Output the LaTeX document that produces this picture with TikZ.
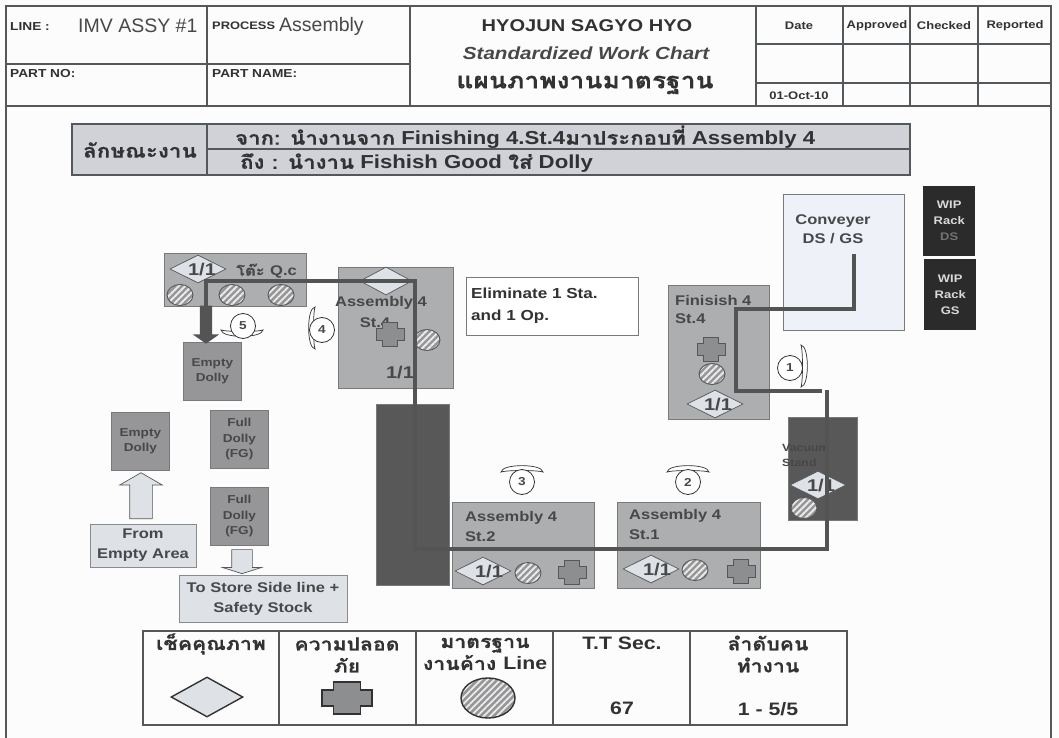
\documentclass[tikz,border=0pt]{standalone}
\usepackage{fontspec}
\setmainfont[BoldFeatures={FakeStretch=1.18},BoldItalicFeatures={FakeStretch=1.18}]{Liberation Sans}
\newfontfamily\thaifont[Script=Thai,BoldFeatures={FakeStretch=1.18,FakeBold=0.5}]{Loma}
\usetikzlibrary{shapes.geometric,shapes.arrows,patterns.meta}
\definecolor{framegray}{RGB}{85,88,90}
\definecolor{inkgray}{RGB}{50,50,52}
\definecolor{softink}{RGB}{72,72,74}
\definecolor{boxgray}{RGB}{172,174,176}
\definecolor{dollygray}{RGB}{150,150,152}
\definecolor{palegray}{RGB}{222,225,230}
\definecolor{paleblue}{RGB}{238,241,247}
\definecolor{darkstand}{RGB}{88,88,88}
\definecolor{rackblack}{RGB}{44,43,43}
\definecolor{crossgray}{RGB}{140,142,144}
\definecolor{walkgray}{RGB}{84,84,84}
\tikzset{
  gridline/.style={draw=framegray, line width=1.1pt},
  stationbox/.style={draw=framegray!80, fill=boxgray, line width=.7pt, anchor=north west, inner sep=0pt},
  dollybox/.style={draw=framegray!80, fill=dollygray, line width=.7pt, anchor=north west, minimum width=58, minimum height=58,
    inner sep=0pt, align=center, text=softink, font=\fontsize{11.5}{15.5}\selectfont\bfseries},
  palebox/.style={draw=framegray!70, fill=palegray, line width=.7pt, inner sep=0pt, align=center, text=softink,
    font=\fontsize{14}{20}\selectfont\bfseries},
  rackbox/.style={fill=rackblack, anchor=north west, inner sep=0pt, align=center, text=white!85!black,
    font=\fontsize{11}{16}\selectfont\bfseries},
  qualdia/.style={diamond, draw=framegray, fill=palegray, line width=.7pt, inner sep=0pt, minimum width=56, minimum height=28},
  stockdisc/.style={ellipse, draw=framegray, line width=.9pt, inner sep=0pt, minimum width=26, minimum height=21,
    preaction={fill=dollygray}, pattern={Lines[angle=45,distance=4.6pt,line width=1.9pt]}, pattern color=white!92!black},
  opcircle/.style={circle, draw=inkgray, fill=white, line width=.8pt, inner sep=0pt, minimum size=25,
    text=softink, font=\fontsize{11.5}{12}\selectfont\bfseries},
  walkline/.style={draw=walkgray, line width=3.4pt, line join=miter},
  hollowarrow/.style={single arrow, draw=framegray, fill=palegray, line width=.7pt, inner xsep=0pt},
  boxlab/.style={anchor=west, inner sep=0pt, text=softink, font=\fontsize{14}{14}\selectfont\bfseries},
  ratio/.style={inner sep=0pt, text=softink, font=\fontsize{17}{17}\selectfont\bfseries},
  headsmall/.style={anchor=west, inner sep=0pt, text=inkgray, font=\fontsize{11.6}{13}\selectfont\bfseries},
  headbig/.style={anchor=west, inner sep=0pt, text=softink, font=\fontsize{19.5}{20}\selectfont},
  signoff/.style={inner sep=0pt, text=inkgray, font=\fontsize{11}{12}\selectfont\bfseries},
  legendhead/.style={inner sep=0pt, text=inkgray, font=\fontsize{18}{18}\selectfont\bfseries},
  safety/.pic={
    \filldraw[pic actions] (-1,-.5) -- (-.55,-.5) -- (-.55,-1) -- (.55,-1) -- (.55,-.5) -- (1,-.5)
      -- (1,.5) -- (.55,.5) -- (.55,1) -- (-.55,1) -- (-.55,.5) -- (-1,.5) -- cycle;
  },
  oplens/.pic={
    \filldraw[draw=inkgray, fill=white, line width=.7pt] (-21,3) .. controls (-20,-5.5) and (20,-5.5) .. (21,3)
      .. controls (15,1) and (-15,1) .. cycle;
  }
}
\begin{document}
\begin{tikzpicture}[x=1pt,y=-1pt]
  \useasboundingbox (0,0) rectangle (1059,738);
  \fill[white!99!black] (0,0) rectangle (1059,738);
  % Header grid
  \draw[gridline] (6,738) -- (6,6) -- (1051,6) -- (1051,738);
  \draw[gridline] (6,106) -- (1051,106);
  \draw[gridline] (6,64) -- (410,64);
  \draw[gridline] (756,44) -- (1051,44);
  \draw[gridline] (756,83) -- (1051,83);
  \foreach \vx in {207,410,756,843,910,978}
  { \draw[gridline] (\vx,6) -- (\vx,106); }
  \node[headsmall] (linelab) at (10,27) {LINE :};
  \node[headbig] (linetxt) at (78,26) {IMV ASSY \#1};
  \node[headsmall, font=\fontsize{10.9}{13}\selectfont\bfseries] (proclab) at (212,26) {PROCESS};
  \node[headbig] (proctxt) at (279,26) {Assembly};
  \node[headsmall] (partno) at (10,74) {PART NO:};
  \node[headsmall] (partname) at (212,74) {PART NAME:};
  % Chart titles
  \node[inner sep=0pt, text=inkgray, font=\fontsize{17}{17}\selectfont\bfseries] (titleA) at (587,26) {HYOJUN SAGYO HYO};
  \node[inner sep=0pt, text=softink, font=\fontsize{17.5}{17}\selectfont\bfseries\itshape] (titleB) at (586,53) {Standardized Work Chart};
  \node[inner sep=0pt, text=inkgray, font=\fontsize{22.4}{22}\selectfont\bfseries\thaifont] (titleC) at (585,85) {แผนภาพงานมาตรฐาน};
  \node[signoff] (date) at (799,26) {Date};
  \node[signoff] (appr) at (877,26) {Approved};
  \node[signoff] (chck) at (944,26) {Checked};
  \node[signoff] (repo) at (1015,26) {Reported};
  \node[signoff] (day) at (799,96) {01-Oct-10};
  % Work description band
  \filldraw[draw=framegray, fill=palegray!85!gray, line width=1.1pt] (72,124) rectangle (910,175);
  \draw[gridline] (207,124) -- (207,175);
  \draw[gridline] (207,149) -- (910,149);
  \node[inner sep=0pt, text=inkgray, font=\fontsize{19}{22}\selectfont\bfseries\thaifont] (kind) at (140,150) {ลักษณะงาน};
  \node[anchor=west, inner sep=0pt, text=inkgray, font=\fontsize{18.8}{20}\selectfont\bfseries] (fromline) at (235,137)
    {{\thaifont จาก: นำงานจาก} Finishing 4.St.4{\thaifont มาประกอบที่} Assembly 4};
  \node[anchor=west, inner sep=0pt, text=inkgray, font=\fontsize{18.8}{20}\selectfont\bfseries] (toline) at (240,163)
    {{\thaifont ถึง : นำงาน} Fishish Good {\thaifont ใส่} Dolly};
  % Stations
  \node[stationbox, minimum width=142, minimum height=53] (qcbox) at (164,253) {};
  \node[stationbox, minimum width=115, minimum height=121] (st4box) at (338,267) {};
  \node[stationbox, minimum width=101, minimum height=134] (finbox) at (668,285) {};
  \node[stationbox, minimum width=142, minimum height=86] (st2box) at (452,502) {};
  \node[stationbox, minimum width=143, minimum height=86] (st1box) at (617,502) {};
  \node[stationbox, fill=darkstand, minimum width=73, minimum height=181] (blockbox) at (376,404) {};
  \node[stationbox, fill=darkstand, minimum width=69, minimum height=103] (vacbox) at (788,417) {};
  \node[stationbox, fill=paleblue, minimum width=121, minimum height=136] (convbox) at (783,194) {};
  \node[stationbox, fill=white, minimum width=172, minimum height=58] (elimbox) at (466,277) {};
  % Dollies
  \foreach \nm/\px/\py/\txt in {dollyA/183/342/{Empty\\Dolly}, dollyB/111/412/{Empty\\Dolly},
      dollyC/210/410/{Full\\Dolly\\(FG)}, dollyD/210/487/{Full\\Dolly\\(FG)}}
  { \node[dollybox] (\nm) at (\px,\py) {\txt}; }
  % Racks
  \node[rackbox, minimum width=52, minimum height=70] (rackDS) at (923,186) {WIP\\Rack\\{\color{white!45!black}DS}};
  \node[rackbox, minimum width=52, minimum height=71] (rackGS) at (924,259) {WIP\\Rack\\GS};
  % Labels in stations
  \node[inner sep=0pt, anchor=west, text=softink, font=\fontsize{14}{14}\selectfont\bfseries\thaifont] (qclab) at (236,271) {โต๊ะ {\fontspec[FakeStretch=1.18]{Liberation Sans Bold}Q.c}};
  \node[boxlab, anchor=center] (st4a) at (381,303) {Assembly 4};
  \node[boxlab, anchor=center] (st4b) at (375,323) {St.4};
  \node[boxlab] (fina) at (675,300) {Finisish 4};
  \node[boxlab] (finb) at (675,319) {St.4};
  \node[boxlab] (st2a) at (465,518) {Assembly 4};
  \node[boxlab] (st2b) at (465,537) {St.2};
  \node[boxlab] (st1a) at (629,516) {Assembly 4};
  \node[boxlab] (st1b) at (629,535) {St.1};
  \node[anchor=west, inner sep=0pt, align=left, text=black!72, font=\fontsize{10.5}{15}\selectfont\bfseries] (vaclab) at (782,455.5) {Vacuum\\Stand};
  \node[anchor=west, inner sep=0pt, align=left, text=inkgray, font=\fontsize{14.5}{22}\selectfont\bfseries] (elimtxt) at (471,306) {Eliminate 1 Sta.\\and 1 Op.};
  \node[inner sep=0pt, align=center, text=softink, font=\fontsize{14}{19}\selectfont\bfseries] (convtxt) at (833,229) {Conveyer\\DS / GS};
  % Quality diamonds
  \foreach \nm/\px/\py/\tx in {qdA/198/269/202, qdC/715/404/718, qdD/818/485/821, qdE/483/571/489, qdF/651/569/657}
  { \node[qualdia] (\nm) at (\px,\py) {};
    \node[ratio] (\nm lab) at (\tx,{\py+1}) {1/1}; }
  \node[qualdia, minimum width=52] (qdB) at (386,281) {};
  \node[ratio] (st4ratio) at (400,373) {1/1};
  % Stock discs
  \foreach \nm/\px/\py in {sdA/180/295, sdB/232/295, sdC/281/295, sdD/427/340, sdE/712/374, sdF/804/508, sdG/528/573, sdH/695/570}
  { \node[stockdisc] (\nm) at (\px,\py) {}; }
  % Safety crosses
  \foreach \px/\py in {390/334, 711/349, 572/572, 741/571}
  { \pic[xscale=14, yscale=12, draw=framegray, fill=crossgray, line width=.6pt] at (\px,\py) {safety}; }
  % Operators
  \foreach \nm/\px/\py/\lx/\ly/\rr in {1/790/368/804/366/-90, 2/688/482/688/469/0, 3/522/482/522/469/0, 4/322/330/312/328/90, 5/243/326/242/333/180}
  { \pic[rotate=\rr] at (\lx,\ly) {oplens};
    \node[opcircle] (op\nm) at (\px,\py) {\nm}; }
  % Arrows
  \node[hollowarrow, rotate=90, inner ysep=11pt, minimum height=46, minimum width=42,
    single arrow head extend=10pt, single arrow tip angle=120] (arrowup) at (141,499) {};
  \node[hollowarrow, rotate=-90, inner ysep=10pt, minimum height=24, minimum width=38,
    single arrow head extend=9pt, single arrow tip angle=145] (arrowdn) at (242,560) {};
  % Small boxes under the arrows
  \node[palebox, minimum width=106, minimum height=43] (frombox) at (143,545.5) {From\\Empty Area};
  \node[palebox, minimum width=168, minimum height=47] (storebox) at (263,598.5) {To Store Side line +\\Safety Stock};
  % Walking path
  \coordinate (wa) at (206,306);
  \coordinate (wb) at (206,281);
  \coordinate (wc) at (415,281);
  \coordinate (wd) at (415,549);
  \coordinate (we) at (827,549);
  \coordinate (wf) at (827,390);
  \coordinate (wg) at (822,391);
  \coordinate (wh) at (736,391);
  \coordinate (wi) at (736,309);
  \coordinate (wj) at (854,309);
  \coordinate (wk) at (854,254);
  \draw[walkline] (wa) -- (wb) -- (wc) -- (wd) -- (we) -- (wf);
  \draw[walkline] (wg) -- (wh) -- (wi) -- (wj) -- (wk);
  \node[single arrow, fill=walkgray, inner xsep=0pt, inner ysep=6pt, rotate=-90, minimum height=38, minimum width=26,
    single arrow head extend=7pt, single arrow tip angle=110] (arrowdark) at (206,322.5) {};
  % Legend table
  \draw[gridline] (143,631) rectangle (847,725);
  \foreach \vx in {279,416,553,690}
  { \draw[gridline] (\vx,631) -- (\vx,725); }
  \node[legendhead, font=\fontsize{18}{18}\selectfont\bfseries\thaifont] (lgA) at (211,644) {เช็คคุณภาพ};
  \node[legendhead, align=center, font=\fontsize{18}{22}\selectfont\bfseries\thaifont] (lgB) at (347,655) {ความปลอด\\ภัย};
  \node[legendhead, align=center, font=\fontsize{18}{22}\selectfont\bfseries\thaifont] (lgC) at (485,654) {มาตรฐาน\\งานค้าง {\fontspec[FakeStretch=1.18]{Liberation Sans Bold}Line}};
  \node[legendhead] (lgD) at (622,643) {T.T Sec.};
  \node[legendhead, align=center, font=\fontsize{18}{22}\selectfont\bfseries\thaifont] (lgE) at (768,654) {ลำดับคน\\ทำงาน};
  \node[legendhead] (lgF) at (622,708) {67};
  \node[legendhead] (lgG) at (768,709) {1 - 5/5};
  \node[diamond, draw=inkgray, fill=palegray, line width=1.4pt, inner sep=0pt, minimum width=72, minimum height=40] (lgdia) at (207,697) {};
  \pic[xscale=25, yscale=16, draw=inkgray, fill=crossgray, line width=1.4pt] at (347,698) {safety};
  \node[stockdisc, draw=inkgray, line width=1.4pt, minimum width=54, minimum height=40] (lgdisc) at (488,698) {};
\end{tikzpicture}
\end{document}
